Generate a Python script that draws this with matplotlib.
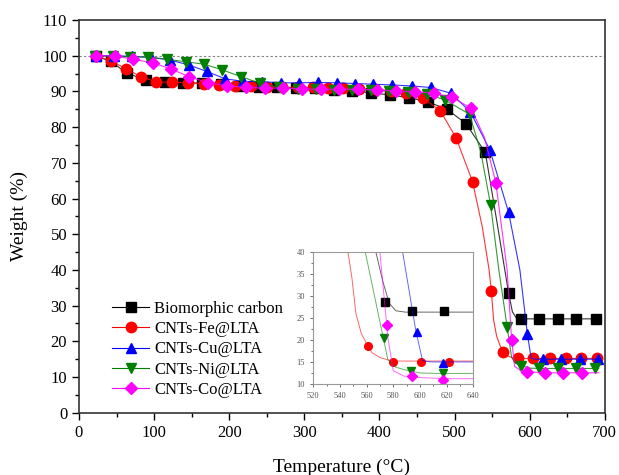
import matplotlib
matplotlib.use("Agg")
import matplotlib.pyplot as plt
from matplotlib.ticker import MultipleLocator

plt.rcParams['font.family'] = ['Liberation Serif', 'DejaVu Serif']

# marker points (temperature in C, weight in %)
bio_t = [22, 42, 64, 89, 114, 139, 164, 189, 214, 239, 264, 289, 314, 339, 364,
         389, 414, 440, 464, 490, 515, 541, 572, 589, 613, 638, 662, 688]
bio_w = [100, 98.4, 95.1, 93.2, 92.6, 92.4, 92.3, 92.0, 91.6, 91.2, 91.1, 90.9, 90.9,
         90.5, 90.1, 89.6, 89.0, 88.2, 87.1, 85.0, 81.0, 72.9, 33.5, 26.3, 26.3, 26.3,
         26.3, 26.3]
fe_t = [22, 42, 63, 83, 103, 124, 145, 166, 187, 208, 229, 250, 270, 291, 311, 331,
        352, 373, 394, 415, 436, 458, 481, 502, 524, 549, 564, 584, 605, 627, 648,
        668, 689]
fe_w = [100, 98.6, 96.3, 94.0, 92.7, 92.5, 92.4, 92.2, 91.8, 91.6, 91.4, 91.3, 91.2,
        91.1, 91.1, 91.0, 91.0, 90.8, 90.6, 90.2, 89.6, 88.1, 84.6, 77.0, 64.7, 34.1,
        17.1, 15.2, 15.2, 15.2, 15.2, 15.2, 15.2]
cu_t = [22, 46, 71, 96, 121, 146, 170, 195, 219, 244, 269, 293, 318, 343, 367, 392,
        417, 443, 468, 495, 521, 547, 572, 597, 618, 642, 667, 691]
cu_w = [100, 100, 99.8, 99.5, 98.8, 97.4, 95.6, 93.5, 92.8, 92.7, 92.4, 92.4, 92.5,
        92.4, 92.2, 92.0, 91.8, 91.5, 91.1, 89.5, 84.3, 73.6, 56.1, 22.0, 15.0, 15.0,
        15.0, 15.0]
ni_t = [21, 45, 68, 92, 117, 142, 167, 191, 216, 241, 266, 291, 315, 340, 364, 389,
        413, 438, 463, 487, 520, 548, 570, 589, 613, 638, 662, 687]
ni_w = [99.8, 99.8, 99.7, 99.6, 99.0, 98.3, 97.6, 96.0, 94.1, 92.3, 91.1, 90.7, 90.6,
        90.5, 90.4, 90.3, 90.1, 89.9, 89.3, 87.6, 83.6, 58.2, 24.1, 13.2, 12.4, 12.4,
        12.4, 12.4]
co_t = [22, 48, 72, 98, 122, 147, 172, 197, 222, 248, 272, 297, 322, 346, 372, 397,
        422, 447, 472, 497, 522, 555, 576, 596, 620, 645, 670]
co_w = [100, 99.9, 99.0, 98.0, 96.3, 94.1, 92.4, 91.6, 91.1, 90.9, 90.9, 90.7, 90.6,
        90.6, 90.6, 90.4, 90.1, 89.9, 89.5, 88.3, 85.3, 64.4, 20.5, 11.5, 11.2, 11.2,
        11.2]

# extra points on the curves (knees of the weight loss step), no markers
bio_kt = [556, 577, 582, 694]
bio_kw = [54, 28.3, 26.6, 26.3]
fe_kt = [537, 546, 552, 556, 561, 570, 578, 694]
fe_kw = [52, 40, 26, 21.5, 18.6, 16.0, 15.3, 15.2]
cu_kt = [587, 602, 608, 694]
cu_kw = [40, 15.3, 15.0, 15.0]
ni_kt = [535, 559, 576, 582, 600, 692]
ni_kw = [73, 40, 15.5, 13.8, 12.5, 12.4]
co_kt = [540, 570, 580, 588, 692]
co_kw = [77, 40, 13.0, 11.8, 11.2]

# markers shown in the inset
bio_it, bio_iw = [574, 594, 618], [28.5, 26.5, 26.5]
fe_it, fe_iw = [561, 580, 601, 622], [18.6, 15.1, 15.1, 15.1]
cu_it, cu_iw = [598, 617], [21.7, 14.8]
ni_it, ni_iw = [573, 593, 617], [20.4, 13.0, 12.5]
co_it, co_iw = [575, 594, 617], [23.4, 11.7, 10.9]

series = [
    ("Biomorphic carbon", "black", "s", bio_t, bio_w, bio_kt, bio_kw, bio_it, bio_iw),
    ("CNTs-Fe@LTA", "#ff0000", "o", fe_t, fe_w, fe_kt, fe_kw, fe_it, fe_iw),
    ("CNTs-Cu@LTA", "#0000ff", "^", cu_t, cu_w, cu_kt, cu_kw, cu_it, cu_iw),
    ("CNTs-Ni@LTA", "#008000", "v", ni_t, ni_w, ni_kt, ni_kw, ni_it, ni_iw),
    ("CNTs-Co@LTA", "#ff00ff", "D", co_t, co_w, co_kt, co_kw, co_it, co_iw),
]


def curve(t, w, kt, kw):
    pts = sorted(zip(list(t) + list(kt), list(w) + list(kw)))
    return [p[0] for p in pts], [p[1] for p in pts]


fig = plt.figure(figsize=(6.19, 4.75), dpi=100)
ax = fig.add_axes([0.1276, 0.131, 0.8494, 0.827])

ax.axhline(100, color="#808080", lw=0.8, ls=(0, (2, 2)), zorder=1)
for name, col, mk, t, w, kt, kw, it, iw in series:
    lt, lw_ = curve(t, w, kt, kw)
    ax.plot(lt, lw_, color=col, lw=0.8, alpha=0.8)
    ms = 6.5 if mk == "D" else 7.5
    ax.plot(t, w, ls="none", marker=mk, color=col, ms=ms)
    ax.plot([], [], color=col, lw=0.8, marker=mk, ms=ms, label=name)

ax.set_xlim(0, 700)
ax.set_ylim(0, 110)
ax.xaxis.set_major_locator(MultipleLocator(100))
ax.xaxis.set_minor_locator(MultipleLocator(50))
ax.yaxis.set_major_locator(MultipleLocator(10))
ax.yaxis.set_minor_locator(MultipleLocator(5))
ax.tick_params(which="major", direction="out", length=5, width=1, labelsize=12)
ax.tick_params(which="minor", direction="out", length=3, width=1)
for s in ax.spines.values():
    s.set_color("#333333")
    s.set_linewidth(1.2)
ax.set_xlabel("Temperature (\u00b0C)", fontsize=14, labelpad=13)
ax.set_ylabel("Weight (%)", fontsize=14, labelpad=10)

ax.legend(loc="lower left", bbox_to_anchor=(0.035, 0.0), frameon=False,
          fontsize=12, handlelength=2.2, handletextpad=0.3, labelspacing=0.25)

# inset zoom of the final plateau
ins = fig.add_axes([0.506, 0.1916, 0.2585, 0.2785])
for name, col, mk, t, w, kt, kw, it, iw in series:
    lt, lw_ = curve(t, w, kt, kw)
    ins.plot(lt, lw_, color=col, lw=0.7, alpha=0.6)
    ms = 5.0 if mk == "D" else 5.5
    ins.plot(it, iw, ls="none", marker=mk, color=col, ms=ms)
ins.set_xlim(520, 640)
ins.set_ylim(10, 40)
ins.xaxis.set_major_locator(MultipleLocator(20))
ins.xaxis.set_minor_locator(MultipleLocator(10))
ins.yaxis.set_major_locator(MultipleLocator(5))
ins.yaxis.set_minor_locator(MultipleLocator(2.5))
ins.tick_params(which="both", direction="out", labelsize=6, colors="#555555")
ins.tick_params(which="major", length=2.5, width=0.6)
ins.tick_params(which="minor", length=1.5, width=0.6)
for s in ins.spines.values():
    s.set_color("#999999")
    s.set_linewidth(0.8)

fig.savefig("out.png", dpi=100)
